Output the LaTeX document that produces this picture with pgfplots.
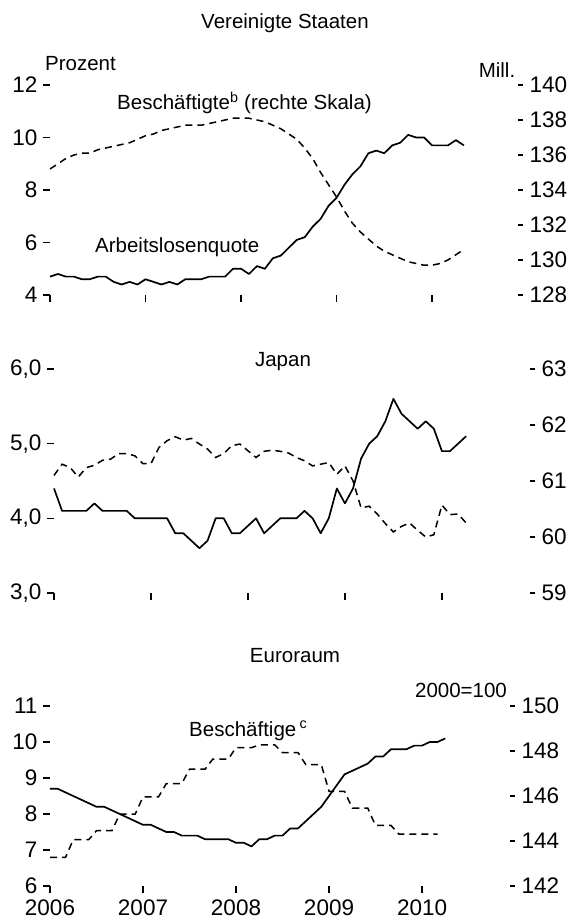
\documentclass[border=0pt]{standalone}
\usepackage{fontspec}
\setmainfont{Liberation Sans}
\usepackage{pgfplots}
\pgfplotsset{compat=1.18}
\usepackage{pgfplotstable}

% US: month index (0 = Jan 2006), unemployment rate (%), employment (mn)
\pgfplotstableread{
m u e
0 4.7 135.2
1 4.8 135.5
2 4.7 135.8
3 4.7 136.0
4 4.6 136.1
5 4.6 136.1
6 4.7 136.3
7 4.7 136.4
8 4.5 136.5
9 4.4 136.6
10 4.5 136.7
11 4.4 136.9
12 4.6 137.1
13 4.5 137.2
14 4.4 137.4
15 4.5 137.5
16 4.4 137.6
17 4.6 137.7
18 4.6 137.7
19 4.6 137.7
20 4.7 137.8
21 4.7 137.9
22 4.7 138.0
23 5.0 138.1
24 5.0 138.1
25 4.8 138.1
26 5.1 138.0
27 5.0 137.9
28 5.4 137.7
29 5.5 137.5
30 5.8 137.2
31 6.1 136.9
32 6.2 136.4
33 6.6 135.8
34 6.9 135.0
35 7.4 134.3
36 7.7 133.6
37 8.2 132.8
38 8.6 132.1
39 8.9 131.6
40 9.4 131.2
41 9.5 130.8
42 9.4 130.5
43 9.7 130.3
44 9.8 130.1
45 10.1 129.9
46 10.0 129.8
47 10.0 129.7
48 9.7 129.7
49 9.7 129.8
50 9.7 130.0
51 9.9 130.3
52 9.7 130.6
}\usdata

% Japan
\pgfplotstableread{
m u e
0 4.4 61.10
1 4.1 61.30
2 4.1 61.24
3 4.1 61.07
4 4.1 61.24
5 4.2 61.28
6 4.1 61.37
7 4.1 61.39
8 4.1 61.49
9 4.1 61.49
10 4.0 61.45
11 4.0 61.31
12 4.0 61.31
13 4.0 61.60
14 4.0 61.72
15 3.8 61.79
16 3.8 61.73
17 3.7 61.76
18 3.6 61.66
19 3.7 61.57
20 4.0 61.42
21 4.0 61.49
22 3.8 61.63
23 3.8 61.66
24 3.9 61.54
25 4.0 61.42
26 3.8 61.53
27 3.9 61.55
28 4.0 61.53
29 4.0 61.50
30 4.0 61.42
31 4.1 61.36
32 4.0 61.27
33 3.8 61.30
34 4.0 61.33
35 4.4 61.12
36 4.2 61.27
37 4.4 61.00
38 4.8 60.52
39 5.0 60.55
40 5.1 60.41
41 5.3 60.24
42 5.6 60.09
43 5.4 60.19
44 5.3 60.25
45 5.2 60.12
46 5.3 60.00
47 5.2 60.04
48 4.9 60.57
49 4.9 60.40
50 5.0 60.41
51 5.1 60.25
}\jpdata

% Euro area unemployment rate
\pgfplotstableread{
m u
0 8.7
1 8.7
2 8.6
3 8.5
4 8.4
5 8.3
6 8.2
7 8.2
8 8.1
9 8.0
10 7.9
11 7.8
12 7.7
13 7.7
14 7.6
15 7.5
16 7.5
17 7.4
18 7.4
19 7.4
20 7.3
21 7.3
22 7.3
23 7.3
24 7.2
25 7.2
26 7.1
27 7.3
28 7.3
29 7.4
30 7.4
31 7.6
32 7.6
33 7.8
34 8.0
35 8.2
36 8.5
37 8.8
38 9.1
39 9.2
40 9.3
41 9.4
42 9.6
43 9.6
44 9.8
45 9.8
46 9.8
47 9.9
48 9.9
49 10.0
50 10.0
51 10.1
}\eaun

% Euro area employment (2000=100), quarterly values held for three months
\pgfplotstableread{
m e
0 143.27
1 143.27
2 143.27
3 144.06
4 144.06
5 144.06
6 144.46
7 144.46
8 144.46
9 145.20
10 145.20
11 145.20
12 145.96
13 145.96
14 145.96
15 146.55
16 146.55
17 146.55
18 147.19
19 147.19
20 147.19
21 147.64
22 147.64
23 147.64
24 148.15
25 148.15
26 148.15
27 148.27
28 148.27
29 148.27
30 147.93
31 147.93
32 147.93
33 147.40
34 147.40
35 147.40
36 146.21
37 146.21
38 146.21
39 145.46
40 145.46
41 145.46
42 144.69
43 144.69
44 144.69
45 144.31
46 144.31
47 144.31
48 144.31
49 144.31
50 144.31
}\eaemp

\pgfplotsset{
  base/.style={
    scale only axis, anchor=south west,
    axis line style={draw=none},
    tick align=outside,
    every tick/.style={black, line width=1.3pt},
    tick label style={font=\fontsize{22.5}{22.5}\selectfont},
    /pgf/number format/assume math mode=true,
    xtick={0,12,24,36,48},
    clip=false,
  },
  leftax/.style={base,
    axis x line*=bottom, axis y line*=left,
    major tick length=7pt,
    yticklabel style={xshift=-2pt},
  },
  rightax/.style={base,
    axis x line=none, axis y line*=right,
    major tick length=5pt,
    yticklabel style={xshift=3pt},
  },
  sol/.style={black, line width=1.7pt, line join=round},
  dsh/.style={black, line width=1.5pt, dash pattern=on 7pt off 5pt},
}

\begin{document}
\begin{tikzpicture}[x=1pt,y=1pt]
\useasboundingbox (0,0) rectangle (571,922);

% ---------------- United States ----------------
\begin{axis}[leftax, at={(50pt,627pt)}, width=468pt, height=210pt,
  xmin=0, xmax=58.8, ymin=4, ymax=12, ytick={4,6,8,10,12},
  xticklabels={}]
  \addplot[sol] table[x=m, y=u] {\usdata};
\end{axis}
\begin{axis}[rightax, at={(50pt,627pt)}, width=468pt, height=210pt,
  xmin=0, xmax=58.8, ymin=128, ymax=140, ytick={128,130,...,140}]
  \addplot[dsh] table[x=m, y=e] {\usdata};
\end{axis}

% ---------------- Japan ----------------
\begin{axis}[leftax, at={(54pt,329pt)}, width=476pt, height=224pt,
  xmin=0, xmax=58.9, ymin=3, ymax=6, ytick={3,4,5,6},
  yticklabels={{3,0},{4,0},{5,0},{6,0}}, xticklabels={}]
  \addplot[sol] table[x=m, y=u] {\jpdata};
\end{axis}
\begin{axis}[rightax, at={(54pt,329pt)}, width=476pt, height=224pt,
  xmin=0, xmax=58.9, ymin=59, ymax=63, ytick={59,60,61,62,63}]
  \addplot[dsh] table[x=m, y=e] {\jpdata};
\end{axis}

% ---------------- Euro area ----------------
\begin{axis}[leftax, at={(50pt,36pt)}, width=460pt, height=180pt,
  xmin=0, xmax=59.35, ymin=6, ymax=11, ytick={6,7,8,9,10,11},
  xticklabels={2006,2007,2008,2009,2010},
  xticklabel style={yshift=-3pt}]
  \addplot[sol] table[x=m, y=u] {\eaun};
\end{axis}
\begin{axis}[rightax, at={(50pt,36pt)}, width=460pt, height=180pt,
  xmin=0, xmax=59.35, ymin=142, ymax=150, ytick={142,144,...,150}]
  \addplot[dsh] table[x=m, y=e] {\eaemp};
\end{axis}

% ---------------- texts ----------------
\begin{scope}[every node/.style={inner sep=0pt, font=\fontsize{20.5}{20.5}\selectfont}]
\node at (285,899) {Vereinigte Staaten};
\node[anchor=west] at (45,858) {Prozent};
\node at (497,852) {Mill.};
\node[anchor=west] at (117,819) {Beschäftigte\textsuperscript{b} (rechte Skala)};
\node[anchor=west] at (95,675) {Arbeitslosenquote};
\node at (283,560) {Japan};
\node at (295,266) {Euroraum};
\node at (461,232) {2000=100};
\node[anchor=west] at (189,191) {Beschäftige\,\textsuperscript{c}};
\end{scope}
\end{tikzpicture}
\end{document}
